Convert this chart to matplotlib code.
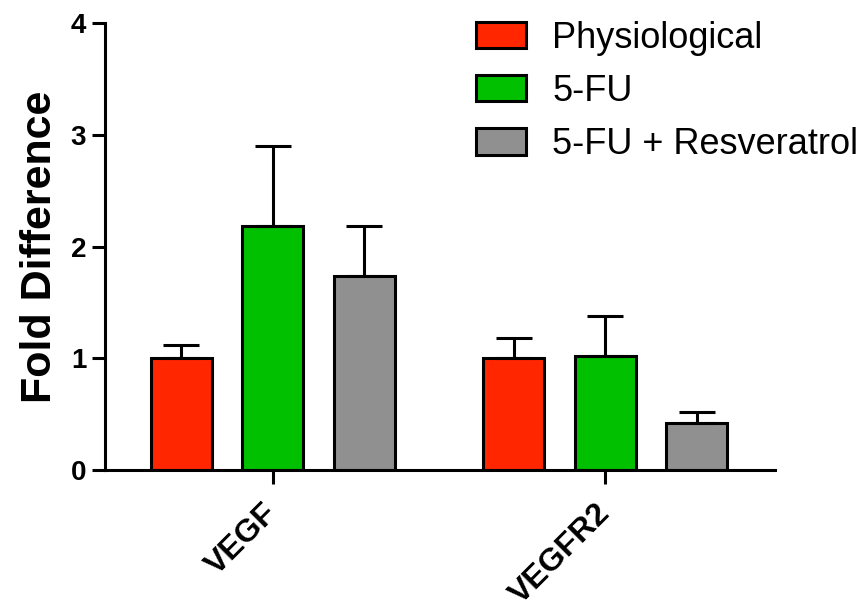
import numpy as np
import matplotlib
matplotlib.use("Agg")
import matplotlib.pyplot as plt
import matplotlib.transforms as mtransforms
from matplotlib.patches import Patch

plt.rcParams['font.family'] = ['Liberation Sans', 'DejaVu Sans']

genes = ['VEGF', 'VEGFR2']
grupos = ['Physiological', '5-FU', '5-FU + Resveratrol']
colores = ['#ff2600', '#00c000', '#909090']

# media y error (solo hacia arriba)
medias = [[1.00, 1.00],
          [2.18, 1.02],
          [1.74, 0.42]]
errores = [[0.12, 0.18],
           [0.72, 0.36],
           [0.44, 0.10]]

fig = plt.figure(figsize=(8.63, 6.12), dpi=100)
ax = fig.add_axes([0.1217, 0.232, 0.7763, 0.7304])

x = np.arange(len(genes))
ancho = 0.183
sep = 0.275
lw = 2.2

for i in range(len(grupos)):
    pos = x + (i - 1) * sep
    ax.bar(pos, medias[i], ancho, color=colores[i], edgecolor='black', linewidth=lw,
           yerr=[np.zeros(len(genes)), errores[i]], capsize=13,
           error_kw=dict(elinewidth=lw, capthick=lw, ecolor='black'), zorder=2)

ax.set_ylim(0, 4)
ax.set_xlim(-0.5045, 1.5105)
ax.set_yticks([0, 1, 2, 3, 4])
ax.set_xticks(x)
ax.set_xticklabels(genes, rotation=45, ha='right', va='center', rotation_mode='anchor',
                   fontsize=23, fontweight='bold')
# correr las etiquetas un poco a la izquierda
despl = mtransforms.ScaledTranslation(-4/100, 0, fig.dpi_scale_trans)
for t in ax.get_xticklabels():
    t.set_transform(t.get_transform() + despl)
for t in ax.get_yticklabels():
    t.set_fontsize(20)
    t.set_fontweight('bold')
ax.set_ylabel('Fold Difference', fontsize=31, fontweight='bold', labelpad=8)

ax.spines['top'].set_visible(False)
ax.spines['right'].set_visible(False)
ax.spines['left'].set_linewidth(lw)
ax.spines['bottom'].set_linewidth(lw)
ax.tick_params(axis='y', width=lw, length=9.5, pad=4)
ax.tick_params(axis='x', width=lw, length=10, pad=18)

handles = [Patch(facecolor=c, edgecolor='black', linewidth=lw) for c in colores]
fig.legend(handles, grupos, loc='upper left', bbox_to_anchor=(0.5516, 0.966),
           frameon=False, fontsize=26, handlelength=1.39, handleheight=0.75,
           labelspacing=0.5, handletextpad=0.72, borderaxespad=0, borderpad=0)

plt.savefig('out.png', dpi=100)
